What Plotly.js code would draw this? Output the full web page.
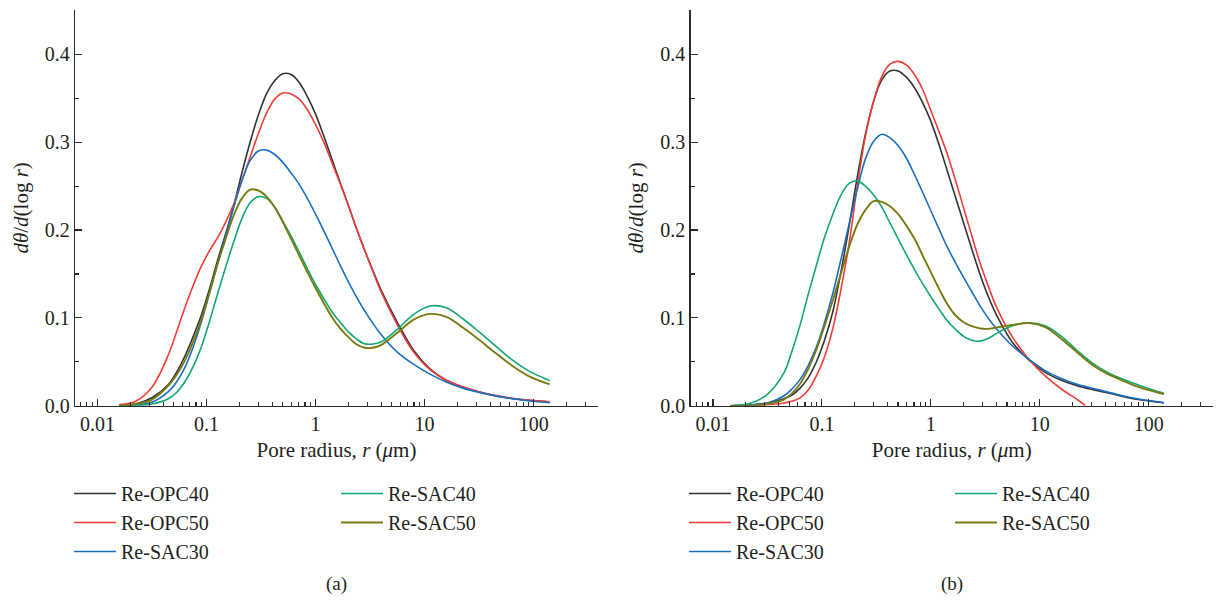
<!DOCTYPE html>
<html>
<head>
<meta charset="utf-8">
<script src="https://cdn.plot.ly/plotly-3.0.1.min.js"></script>
<style>html,body{margin:0;padding:0;background:#fff;}#chart{width:1218px;height:605px;}</style>
</head>
<body>
<div id="chart"></div>
<script>
// ---------- data ----------
const names = ['Re-OPC40', 'Re-OPC50', 'Re-SAC30', 'Re-SAC40', 'Re-SAC50'];
const colors = ['#333333', '#ee3e36', '#1b6fc2', '#10a86c', '#7a7a12'];

// pore radius (µm) at which the curves were read
const a_r = [0.0158, 0.0224, 0.0316, 0.0447, 0.0531, 0.0631, 0.075, 0.0891, 0.106, 0.126, 0.15, 0.178, 0.211, 0.251, 0.299, 0.355, 0.422, 0.501, 0.596, 0.708, 0.841, 1, 1.19, 1.41, 1.68, 2, 2.37, 2.82, 3.35, 3.98, 5.62, 7.94, 11.2, 15.8, 22.4, 31.6, 44.7, 63.1, 89.1, 126, 140];
const b_r = [0.0145, 0.0224, 0.0316, 0.0447, 0.0531, 0.0631, 0.075, 0.0891, 0.106, 0.126, 0.15, 0.178, 0.211, 0.251, 0.299, 0.355, 0.422, 0.501, 0.596, 0.708, 0.841, 1, 1.19, 1.41, 1.68, 2, 2.37, 2.82, 3.35, 3.98, 5.62, 7.94, 11.2, 15.8, 22.4, 31.6, 44.7, 63.1, 89.1, 126, 138];
const b_OPC50_r = [0.0145, 0.0224, 0.0316, 0.0447, 0.0531, 0.0631, 0.075, 0.0891, 0.106, 0.126, 0.15, 0.178, 0.211, 0.251, 0.299, 0.355, 0.422, 0.501, 0.596, 0.708, 0.841, 1, 1.19, 1.41, 1.68, 2, 2.37, 2.82, 3.35, 3.98, 5.62, 7.94, 11.2, 15.8, 22.4, 26.2];

// Panel (a) dθ/d(log r)
const a_OPC40 = [0, 0.002, 0.009, 0.024, 0.038, 0.056, 0.078, 0.102, 0.132, 0.165, 0.196, 0.228, 0.265, 0.3, 0.331, 0.355, 0.37, 0.378, 0.377, 0.368, 0.352, 0.332, 0.307, 0.281, 0.254, 0.228, 0.202, 0.177, 0.154, 0.132, 0.095, 0.063, 0.042, 0.029, 0.021, 0.0155, 0.0112, 0.0082, 0.0062, 0.0048, 0.0045];
const a_OPC50 = [0.001, 0.005, 0.021, 0.058, 0.084, 0.111, 0.136, 0.158, 0.176, 0.191, 0.209, 0.23, 0.256, 0.283, 0.31, 0.333, 0.349, 0.356, 0.355, 0.349, 0.337, 0.32, 0.3, 0.277, 0.253, 0.228, 0.202, 0.177, 0.153, 0.13, 0.092, 0.061, 0.041, 0.029, 0.0215, 0.016, 0.0115, 0.0085, 0.0063, 0.0049, 0.0045];
const a_SAC30 = [0, 0.001, 0.004, 0.016, 0.027, 0.043, 0.066, 0.094, 0.127, 0.161, 0.194, 0.226, 0.256, 0.279, 0.29, 0.291, 0.286, 0.277, 0.265, 0.252, 0.236, 0.218, 0.199, 0.18, 0.16, 0.141, 0.124, 0.108, 0.094, 0.081, 0.061, 0.047, 0.036, 0.027, 0.02, 0.0152, 0.0113, 0.0081, 0.0057, 0.0039, 0.0034];
const a_SAC40 = [0, 0, 0.002, 0.008, 0.015, 0.027, 0.044, 0.066, 0.095, 0.127, 0.158, 0.187, 0.213, 0.231, 0.238, 0.236, 0.226, 0.21, 0.193, 0.175, 0.156, 0.138, 0.122, 0.107, 0.095, 0.084, 0.076, 0.0705, 0.0702, 0.0725, 0.087, 0.104, 0.1135, 0.1115, 0.099, 0.084, 0.068, 0.0525, 0.04, 0.031, 0.0284];
const a_SAC50 = [0, 0.002, 0.007, 0.023, 0.035, 0.051, 0.072, 0.097, 0.128, 0.161, 0.19, 0.217, 0.236, 0.246, 0.245, 0.238, 0.226, 0.209, 0.19, 0.171, 0.152, 0.134, 0.117, 0.101, 0.088, 0.078, 0.07, 0.066, 0.066, 0.069, 0.083, 0.098, 0.1045, 0.101, 0.089, 0.075, 0.06, 0.0458, 0.034, 0.0262, 0.0243];

// Panel (b) dθ/d(log r)
const b_OPC40 = [0, 0.001, 0.003, 0.008, 0.012, 0.02, 0.032, 0.05, 0.075, 0.107, 0.153, 0.205, 0.26, 0.309, 0.347, 0.371, 0.381, 0.381, 0.374, 0.362, 0.345, 0.324, 0.297, 0.268, 0.238, 0.208, 0.179, 0.15, 0.125, 0.104, 0.072, 0.052, 0.038, 0.029, 0.0225, 0.018, 0.0138, 0.0095, 0.0063, 0.0039, 0.0032];
const b_OPC50 = [0, 0, 0.001, 0.003, 0.005, 0.009, 0.018, 0.034, 0.056, 0.088, 0.133, 0.185, 0.25, 0.307, 0.347, 0.375, 0.389, 0.392, 0.388, 0.377, 0.36, 0.336, 0.312, 0.287, 0.257, 0.225, 0.194, 0.163, 0.137, 0.113, 0.078, 0.053, 0.034, 0.019, 0.0065, 0];
const b_SAC30 = [0, 0.001, 0.003, 0.011, 0.019, 0.03, 0.046, 0.067, 0.095, 0.128, 0.167, 0.207, 0.246, 0.281, 0.301, 0.309, 0.305, 0.296, 0.282, 0.263, 0.243, 0.222, 0.201, 0.181, 0.163, 0.146, 0.13, 0.114, 0.1, 0.088, 0.068, 0.053, 0.04, 0.031, 0.024, 0.0193, 0.0148, 0.0102, 0.0068, 0.0042, 0.0034];
const b_SAC40 = [0, 0.003, 0.013, 0.037, 0.062, 0.092, 0.127, 0.16, 0.192, 0.218, 0.24, 0.253, 0.256, 0.25, 0.24, 0.226, 0.208, 0.19, 0.172, 0.155, 0.139, 0.124, 0.11, 0.097, 0.087, 0.079, 0.0745, 0.0735, 0.0765, 0.082, 0.091, 0.0945, 0.091, 0.079, 0.062, 0.047, 0.036, 0.0285, 0.0215, 0.0155, 0.014];
const b_SAC50 = [0, 0, 0.002, 0.007, 0.014, 0.025, 0.042, 0.064, 0.091, 0.12, 0.151, 0.181, 0.206, 0.223, 0.233, 0.232, 0.227, 0.218, 0.205, 0.19, 0.171, 0.152, 0.133, 0.116, 0.103, 0.095, 0.0905, 0.088, 0.0875, 0.089, 0.092, 0.094, 0.0895, 0.076, 0.06, 0.045, 0.0345, 0.0265, 0.0195, 0.0145, 0.0133];

const xTickVals = [0.01, 0.1, 1, 10, 100];
const xTickText = ['0.01', '0.1', '1', '10', '100'];
const panelLabels = ['(a)', '(b)'];

// ---------- build ----------
const W = 1218, H = 605;
const FONT = '"Liberation Serif", "Times New Roman", serif';
const AX = '#2a2a2a';
const TXT = '#231f20';

const panelA = [[a_r, a_OPC40], [a_r, a_OPC50], [a_r, a_SAC30], [a_r, a_SAC40], [a_r, a_SAC50]];
const panelB = [[b_r, b_OPC40], [b_OPC50_r, b_OPC50], [b_r, b_SAC30], [b_r, b_SAC40], [b_r, b_SAC50]];

const traces = [];
[panelA, panelB].forEach((panel, p) => {
  panel.forEach((s, i) => {
    const leg = (p === 0 ? (i < 3 ? 'legend' : 'legend2') : (i < 3 ? 'legend3' : 'legend4'));
    traces.push({
      x: s[0], y: s[1], type: 'scatter', mode: 'lines', name: names[i],
      xaxis: p === 0 ? 'x' : 'x2', yaxis: p === 0 ? 'y' : 'y2',
      line: {color: colors[i], width: i === 4 ? 1.9 : 1.6, shape: 'spline', smoothing: 1},
      legend: leg, showlegend: true
    });
  });
});

const minorX = [];
for (let k = -3; k <= 2; k++) for (let d = 2; d <= 9; d++) minorX.push(d * Math.pow(10, k));

function xAxis(domain, anchor) {
  return {
    type: 'log', domain: domain, anchor: anchor, range: [-2.206, 2.59],
    tickmode: 'array', tickvals: xTickVals, ticktext: xTickText,
    ticks: 'inside', ticklen: 7, tickwidth: 1.2, tickcolor: AX,
    minor: {tickmode: 'array', tickvals: minorX, ticks: 'inside', ticklen: 4, tickwidth: 1.1, tickcolor: AX, showgrid: false},
    showline: true, linecolor: AX, linewidth: 1.3, showgrid: false, zeroline: false,
    tickfont: {family: FONT, size: 20, color: TXT}, ticklabelstandoff: 0,
    title: {text: 'Pore radius, <i>r</i> (<i>μ</i>m)', font: {family: FONT, size: 21, color: TXT}, standoff: 8}
  };
}
function yAxis(domain, anchor) {
  return {
    domain: domain, anchor: anchor, range: [0, 0.4505],
    tickmode: 'linear', tick0: 0, dtick: 0.1, tickformat: '.1f',
    ticks: 'inside', ticklen: 7, tickwidth: 1.2, tickcolor: AX,
    minor: {tickmode: 'linear', tick0: 0.05, dtick: 0.1, ticks: 'inside', ticklen: 4, tickwidth: 1.1, tickcolor: AX, showgrid: false},
    showline: true, linecolor: AX, linewidth: 1.3, showgrid: false, zeroline: false,
    tickfont: {family: FONT, size: 20, color: TXT}, ticklabelstandoff: 0,
    title: {text: '<i>dθ</i>/<i>d</i>(log <i>r</i>)', font: {family: FONT, size: 21, color: TXT}, standoff: 10}
  };
}

const yDom = [(H - 405.7) / H, (H - 10) / H];
const xDomA = [75 / W, 598 / W];
const xDomB = [690.5 / W, 1213 / W];

function legend(xpx) {
  return {
    x: xpx / W, y: (H - 474) / H, xanchor: 'left', yanchor: 'top',
    bgcolor: 'rgba(0,0,0,0)', borderwidth: 0, tracegroupgap: 0,
    font: {family: FONT, size: 20, color: TXT}, itemwidth: 42
  };
}

const layout = {
  width: W, height: H,
  margin: {l: 0, r: 0, t: 0, b: 0},
  paper_bgcolor: '#fff', plot_bgcolor: '#fff',
  xaxis: xAxis(xDomA, 'y'), yaxis: yAxis(yDom, 'x'),
  xaxis2: xAxis(xDomB, 'y2'), yaxis2: yAxis(yDom, 'x2'),
  legend: legend(69), legend2: legend(336), legend3: legend(684), legend4: legend(950),
  annotations: panelLabels.map((t, i) => ({
    text: t, xref: 'paper', yref: 'paper',
    x: (i === 0 ? (xDomA[0] + xDomA[1]) / 2 : (xDomB[0] + xDomB[1]) / 2), y: (H - 584) / H,
    xanchor: 'center', yanchor: 'middle', showarrow: false,
    font: {family: FONT, size: 19, color: TXT}
  }))
};

Plotly.newPlot('chart', traces, layout, {displayModeBar: false, staticPlot: true});
</script>
</body>
</html>
